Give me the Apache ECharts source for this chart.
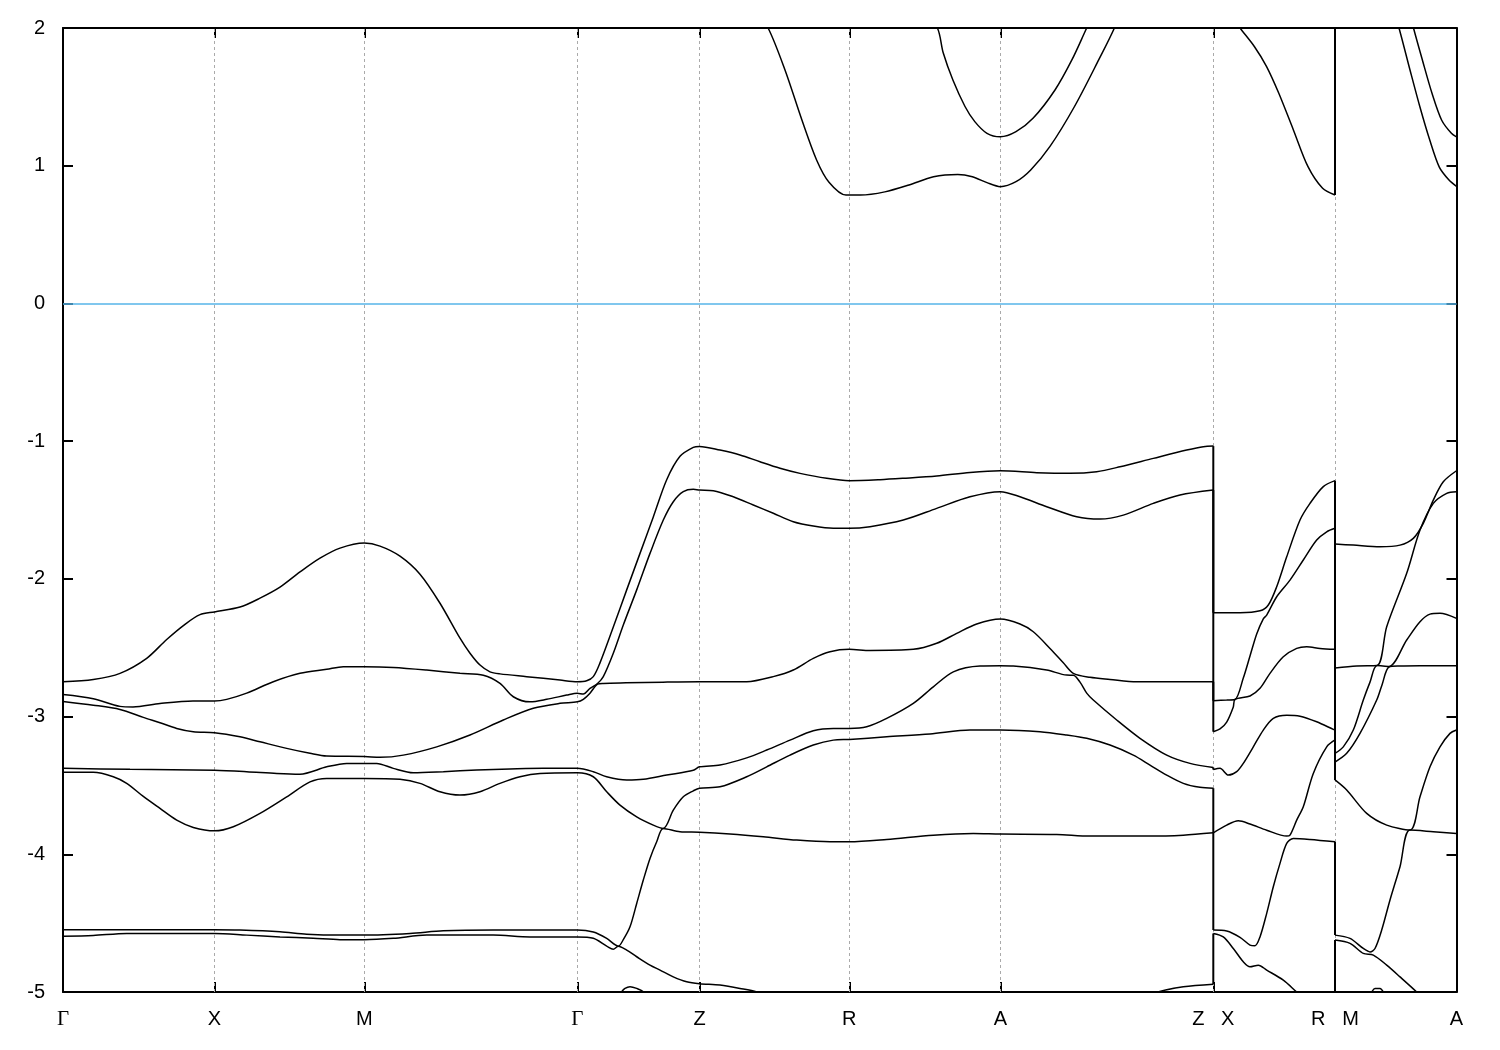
<!DOCTYPE html>
<html><head><meta charset="utf-8">
<script src="https://cdn.jsdelivr.net/npm/echarts@6/dist/echarts.min.js"></script>
<style>html,body{margin:0;padding:0;background:#fff}#c{width:1500px;height:1050px}</style>
</head><body><div id="c"></div>
<script>
// high-symmetry k positions (path distance units) and their labels
const kTicks = [0, 151.5, 301.3, 514.3, 636.5, 786.3, 937.3, 1150.3, 1272, 1393.5];
const kLabels = ['Γ', 'X', 'M', 'Γ', 'Z', 'R', 'A', 'Z   X', 'R   M', 'A'];
const eMin = -5, eMax = 2, eStep = 1;

// bands: [k, E(eV)]
const band1 = [[0,-2.747],[30.3,-2.73],[57,-2.686],[83.7,-2.577],[103.7,-2.44],[122,-2.33],[137,-2.26],[151.5,-2.24],
[177,-2.205],[197,-2.14],[217,-2.06],[237,-1.95],[257,-1.85],[277,-1.777],[301.3,-1.74],
[317,-1.762],[337,-1.835],[357,-1.966],[377,-2.177],[397,-2.431],[407,-2.54],[417,-2.626],[427,-2.675],[437,-2.69],[463.7,-2.71],[497,-2.735],[514.3,-2.747],
[523.7,-2.74],[530.3,-2.71],[537,-2.61],[550.3,-2.35],[563.7,-2.08],[577,-1.815],[590.3,-1.55],[603.7,-1.28],[617,-1.11],[630.3,-1.045],[636.5,-1.038],
[657,-1.065],[677,-1.10],[697,-1.15],[717,-1.197],[737,-1.234],[763.7,-1.27],[786.3,-1.287],
[817,-1.28],[840.3,-1.27],[873.7,-1.253],[907,-1.227],[937.3,-1.215],[973.7,-1.229],[1007,-1.234],[1033.7,-1.222],[1057,-1.186],[1090.3,-1.125],[1123.7,-1.065],[1140.3,-1.04],[1150.3,-1.036],
[1150.3,-2.246],[1177,-2.246],[1197,-2.232],[1205.3,-2.19],[1213.7,-2.057],[1223.7,-1.84],[1237,-1.573],[1247,-1.452],[1260.3,-1.33],[1272,-1.287],
[1272,-1.747],[1290.3,-1.755],[1317,-1.767],[1337,-1.755],[1350.3,-1.706],[1360.3,-1.597],[1370.3,-1.428],[1380.3,-1.295],[1393.5,-1.215]];

const band2 = [[0,-2.84],[30.3,-2.87],[57,-2.926],[70,-2.93],[97,-2.905],[130,-2.887],[151.5,-2.887],
[163.7,-2.875],[183.7,-2.83],[210.3,-2.747],[237,-2.686],[263.7,-2.657],[280.3,-2.638],[301.3,-2.638],
[330.3,-2.643],[363.7,-2.662],[397,-2.686],[420.3,-2.70],[437,-2.759],[450.3,-2.856],[467,-2.893],[483.7,-2.875],[503.7,-2.844],[514.3,-2.83],
[520.3,-2.837],[527,-2.795],[534.5,-2.76],[540.3,-2.71],[550.3,-2.54],[560.3,-2.335],[573.7,-2.08],[587,-1.815],[600.3,-1.573],[610.3,-1.44],[620.3,-1.367],[630.3,-1.35],[636.5,-1.355],
[650.3,-1.36],[670.3,-1.404],[690.3,-1.464],[710.3,-1.524],[730.3,-1.585],[750.3,-1.617],[770.3,-1.633],[786.3,-1.633],
[807,-1.621],[840.3,-1.573],[873.7,-1.488],[907,-1.404],[937.3,-1.367],[957,-1.404],[983.7,-1.476],[1013.7,-1.549],[1037,-1.566],[1060.3,-1.537],[1090.3,-1.452],[1117,-1.391],[1150.3,-1.355],
[1150.3,-2.885],[1163.7,-2.88],[1172,-2.876],[1180.3,-2.72],[1187,-2.56],[1193.7,-2.40],[1200.3,-2.29],[1203.7,-2.263],[1213.7,-2.13],[1227,-2.009],[1240.3,-1.863],[1253.7,-1.718],[1263.7,-1.658],[1272,-1.633],
[1272,-2.647],[1293.7,-2.633],[1314,-2.63],[1323.7,-2.348],[1343.7,-1.96],[1357,-1.646],[1370.3,-1.452],[1383.7,-1.379],[1393.5,-1.367]];

const band3 = [[0,-2.89],[30.3,-2.917],[57,-2.948],[80.3,-3.006],[97,-3.045],[113.7,-3.086],[130.3,-3.11],[151.5,-3.117],
[177,-3.147],[197,-3.183],[223.7,-3.231],[247,-3.267],[263.7,-3.287],[301.3,-3.29],
[317,-3.296],[340.3,-3.28],[373.7,-3.22],[407,-3.134],[440.3,-3.025],[470.3,-2.94],[497,-2.904],[514.3,-2.893],
[520.3,-2.875],[527,-2.83],[534.5,-2.765],[540.3,-2.759],[563,-2.755],[600,-2.75],[636.5,-2.747],
[683.7,-2.747],[710.3,-2.71],[730.3,-2.662],[750.3,-2.577],[767,-2.529],[786.3,-2.512],
[807,-2.52],[850.3,-2.512],[873.7,-2.468],[893.7,-2.396],[913.7,-2.328],[937.3,-2.292],[957,-2.328],[970.3,-2.384],[987,-2.505],[1000.3,-2.609],[1010.3,-2.686],[1027,-2.715],[1047,-2.73],[1073.7,-2.747],[1150.3,-2.747],
[1150.3,-3.11],[1157,-3.09],[1163.7,-3.04],[1170.3,-2.93],[1172,-2.876],[1187,-2.851],[1197,-2.795],[1207,-2.686],[1220.3,-2.566],[1233.7,-2.505],[1243.7,-2.493],[1257,-2.505],[1272,-2.512],
[1272,-3.267],[1280.3,-3.22],[1290.3,-3.098],[1300.3,-2.88],[1307,-2.75],[1314,-2.63],[1326,-2.637],[1343.7,-2.444],[1357,-2.311],[1367,-2.256],[1377,-2.25],[1393.5,-2.287]];

const band4 = [[0,-3.376],[67,-3.383],[151.5,-3.39],
[183.7,-3.40],[213.7,-3.413],[237,-3.418],[263.7,-3.365],[283.7,-3.34],[301.3,-3.34],
[313.7,-3.34],[330.3,-3.376],[350.3,-3.408],[380.3,-3.40],[413.7,-3.388],[447,-3.381],[480.3,-3.376],[514.3,-3.376],
[530.3,-3.40],[543.7,-3.437],[563.7,-3.461],[580.3,-3.456],[603.7,-3.425],[630.3,-3.39],[636.5,-3.365],
[657,-3.352],[683.7,-3.30],[703.7,-3.243],[727,-3.171],[750.3,-3.103],[770.3,-3.086],[786.3,-3.086],
[803.7,-3.074],[823.7,-3.013],[850.3,-2.904],[870.3,-2.784],[890.3,-2.675],[917,-2.633],[937.3,-2.631],[950.3,-2.633],[983.7,-2.662],[1003.7,-2.699],[1010.3,-2.70],[1017,-2.75],[1023.7,-2.83],[1030.3,-2.88],[1053.7,-3.025],[1077,-3.158],[1103.7,-3.28],[1127,-3.34],[1150.3,-3.37],
[1150.3,-3.385],[1157,-3.376],[1165.3,-3.425],[1173.7,-3.40],[1180.3,-3.34],[1190.3,-3.22],[1200.3,-3.098],[1210.3,-3.013],[1223.7,-2.99],[1237,-2.997],[1253.7,-3.038],[1270.3,-3.093],[1272,-3.098],
[1272,-3.33],[1283.7,-3.267],[1297,-3.122],[1313.7,-2.88],[1319,-2.77],[1326,-2.64],[1337,-2.633],[1357,-2.631],[1393.5,-2.631]];

const band5 = [[0,-3.405],[30.3,-3.405],[50.3,-3.437],[63.7,-3.485],[80.3,-3.58],[97,-3.667],[113.7,-3.752],[130.3,-3.805],[151.5,-3.83],
[170.3,-3.80],[197,-3.703],[223.7,-3.583],[247,-3.474],[263.7,-3.449],[301.3,-3.449],
[337,-3.456],[357,-3.485],[377,-3.546],[397,-3.57],[417,-3.546],[437,-3.485],[457,-3.437],[477,-3.413],[514.3,-3.408],
[530.3,-3.437],[543.7,-3.546],[557,-3.643],[573.7,-3.728],[590.3,-3.788],[600.3,-3.812],[610.3,-3.679],[620.3,-3.582],[630.3,-3.539],[636.5,-3.52],
[657,-3.51],[683.7,-3.437],[703.7,-3.365],[727,-3.28],[750.3,-3.207],[770.3,-3.171],[786.3,-3.166],
[823.7,-3.147],[867,-3.127],[907,-3.098],[937.3,-3.098],[977,-3.11],[1003.7,-3.134],[1023.7,-3.158],[1047,-3.207],[1070.3,-3.28],[1087,-3.352],[1103.7,-3.425],[1120.3,-3.485],[1137,-3.514],[1150.3,-3.52],
[1150.3,-3.844],[1163.7,-3.788],[1175.3,-3.757],[1187,-3.78],[1203.7,-3.825],[1223.7,-3.868],[1227,-3.861],[1233.7,-3.752],[1240.3,-3.655],[1250.3,-3.413],[1263.7,-3.22],[1272,-3.17],
[1272,-3.46],[1283.7,-3.533],[1303.7,-3.703],[1323.7,-3.788],[1347,-3.824],[1357,-3.582],[1367,-3.365],[1377,-3.22],[1387,-3.122],[1393.5,-3.098]];

const band6 = [[0,-4.548],[151.5,-4.548],
[177,-4.55],[217,-4.562],[243.7,-4.58],[277,-4.587],[301.3,-4.587],
[347,-4.575],[380.3,-4.556],[430.3,-4.55],[514.3,-4.55],
[530.3,-4.565],[543.7,-4.611],[555.3,-4.667],[560.3,-4.62],[567,-4.527],[573.7,-4.357],[580.3,-4.187],[587,-4.03],[593.7,-3.909],[600.3,-3.812],[617,-3.836],[636.5,-3.84],
[667,-3.853],[700.3,-3.873],[733.7,-3.897],[767,-3.909],[786.3,-3.909],
[823.7,-3.892],[870.3,-3.861],[910.3,-3.849],[937.3,-3.853],[993.7,-3.856],[1027,-3.868],[1087,-3.868],[1120.3,-3.861],[1150.3,-3.844],
[1150.3,-4.55],[1163.7,-4.557],[1177,-4.603],[1187,-4.659],[1192,-4.664],[1197,-4.60],[1203.7,-4.429],[1210.3,-4.236],[1217,-4.066],[1223.7,-3.921],[1230.3,-3.885],[1247,-3.892],[1272,-3.909],
[1272,-4.587],[1287,-4.611],[1300.3,-4.684],[1307,-4.709],[1312,-4.684],[1318.7,-4.55],[1327,-4.332],[1337,-4.09],[1347,-3.824],[1370.3,-3.836],[1393.5,-3.849]];

const band7 = [[0,-4.596],[30.3,-4.59],[63.7,-4.575],[151.5,-4.575],
[183.7,-4.587],[217,-4.60],[250.3,-4.61],[277,-4.62],[301.3,-4.62],
[330.3,-4.61],[363.7,-4.587],[430.3,-4.587],[467,-4.60],[514.3,-4.60],
[530.3,-4.61],[543.7,-4.667],[550.3,-4.69],[555.3,-4.667],[563.7,-4.696],[573.7,-4.744],[587,-4.805],[597,-4.841],[610.3,-4.89],[623.7,-4.926],[636.5,-4.94],
[657,-4.95],[677,-4.974],[693.7,-5.0],[720,-5.08],[786.3,-5.25],
[850,-5.35],[937.3,-5.4],[1030,-5.3],[1060,-5.12],[1090.3,-5.01],[1120.3,-4.962],[1150.3,-4.943],
[1150.3,-4.575],[1160.3,-4.60],[1170.3,-4.684],[1180.3,-4.781],[1187,-4.817],[1195.3,-4.805],[1203.7,-4.841],[1220.3,-4.914],[1233.7,-5.0],[1250,-5.1],[1272,-5.2],
[1272,-4.623],[1287,-4.647],[1300.3,-4.72],[1310.3,-4.732],[1323.7,-4.805],[1337,-4.89],[1353.7,-5.0],[1375,-5.15],[1393.5,-5.25]];

const band8 = [[0,-5.5],[301.3,-5.5],[514.3,-5.3],[549,-5.1],[558.7,-4.998],[562,-4.974],[567,-4.962],[573.7,-4.974],[580.3,-4.998],[590,-5.1],[636.5,-5.3],
[786.3,-5.5],[937.3,-5.5],[1150.3,-5.4],[1150.3,-5.4],[1272,-5.4],
[1272,-5.3],[1300,-5.1],[1308.7,-5.0],[1312,-4.975],[1317,-4.975],[1320.3,-5.0],[1327,-5.1],[1393.5,-5.4]];

const cond1 = [[0,2.8],[151.5,3.0],[301.3,3.2],[514.3,2.8],[636.5,2.6],[680,2.3],[705.1,2.0],[722,1.695],[739,1.33],[753.7,1.04],[766,0.88],[783,0.787],[786.3,0.787],
[797.5,0.787],[821.8,0.81],[846,0.86],[870.5,0.92],[894.8,0.937],[909.4,0.92],[924,0.877],[937.3,0.848],[953,0.884],[967.7,0.969],[987,1.14],[1011.5,1.43],[1035.8,1.77],[1051.4,2.0],[1080,2.5],[1150.3,3.0],
[1150.3,2.25],[1165,2.12],[1177,2.0],[1191.5,1.864],[1203.6,1.72],[1215.8,1.526],[1230.4,1.26],[1245,0.993],[1259.6,0.836],[1272,0.787],
[1272,2.8],[1320,2.4],[1336,2.0],[1347,1.695],[1356.8,1.43],[1366.6,1.19],[1376.3,0.99],[1386,0.896],[1393.5,0.85]];

const cond2 = [[0,3.5],[151.5,3.6],[301.3,3.8],[514.3,3.4],[636.5,3.0],[786.3,2.6],[855,2.2],[874.4,2.0],[880.2,1.82],[890,1.62],[902,1.43],[911.8,1.32],[924,1.235],[937.3,1.21],
[953,1.247],[970,1.344],[992,1.55],[1009,1.77],[1023.7,2.0],[1050,2.4],[1150.3,3.4],
[1150.3,2.8],[1272,2.4],
[1272,3.0],[1340,2.3],[1350.5,2.0],[1359.3,1.77],[1369,1.526],[1378.7,1.33],[1388.4,1.235],[1393.5,1.21]];

const bands = [band1, band2, band3, band4, band5, band6, band7, band8, cond1, cond2];

const FONT = '"Liberation Sans", Arial, Helvetica, sans-serif';
const chart = echarts.init(document.getElementById('c'), null, {renderer: 'canvas'});

function xLabel(v) {
  let best = 0;
  for (let i = 1; i < kTicks.length; i++) if (Math.abs(kTicks[i] - v) < Math.abs(kTicks[best] - v)) best = i;
  const t = kLabels[best];
  return t === 'Γ' ? '{g|Γ}' : t;
}

const axisLineStyle = {color: '#000', width: 2};
const kMin = kTicks[0], kMax = kTicks[kTicks.length - 1];

// split each band at path discontinuities (repeated k): smooth pieces + straight connectors
const series = [];
bands.forEach(b => {
  let cur = [b[0]];
  const flush = () => series.push({
    type: 'line', data: cur, showSymbol: false, symbol: 'none', clip: true, silent: true, smooth: 0.3,
    lineStyle: {color: '#000', width: 1.5}, z: 3, animation: false
  });
  for (let i = 1; i < b.length; i++) {
    if (b[i][0] === b[i - 1][0]) {
      flush();
      series.push({
        type: 'line', data: [b[i - 1], b[i]], showSymbol: false, symbol: 'none', clip: true, silent: true,
        lineStyle: {color: '#000', width: 2}, z: 4, animation: false
      });
      cur = [b[i]];
    } else cur.push(b[i]);
  }
  flush();
});

series.push({
  type: 'line', data: [], silent: true, z: 1, animation: false,
  markLine: {
    z: 1, silent: true, symbol: ['none', 'none'], animation: false, label: {show: false},
    data: kTicks.slice(1, -1).map(v => ({xAxis: v, lineStyle: {color: '#aaaaaa', width: 1, type: [3, 3]}}))
      .concat([{yAxis: 0, lineStyle: {color: '#56b4e9', width: 1.5, type: 'solid'}}])
  }
});

chart.setOption({
  animation: false,
  backgroundColor: '#ffffff',
  grid: {left: 63, right: 43.5, top: 28, bottom: 58, outerBoundsMode: 'none', containLabel: false},
  xAxis: [{
    type: 'value', min: kMin, max: kMax, position: 'bottom',
    axisLine: {show: true, onZero: false, lineStyle: axisLineStyle},
    axisTick: {show: true, customValues: kTicks, inside: true, length: 10, lineStyle: axisLineStyle},
    axisLabel: {show: true, customValues: kTicks, margin: 17, color: '#000', fontSize: 20, fontFamily: FONT,
      formatter: xLabel, rich: {g: {fontFamily: '"Liberation Serif", "Times New Roman", serif', fontSize: 21, color: '#000'}}},
    splitLine: {show: false}
  }, {
    type: 'value', min: kMin, max: kMax, position: 'top',
    axisLine: {show: true, onZero: false, lineStyle: axisLineStyle},
    axisTick: {show: true, customValues: kTicks, inside: true, length: 10, lineStyle: axisLineStyle},
    axisLabel: {show: false}, splitLine: {show: false}
  }],
  yAxis: [{
    type: 'value', min: eMin, max: eMax, interval: eStep, position: 'left',
    axisLine: {show: true, onZero: false, lineStyle: axisLineStyle},
    axisTick: {show: true, inside: true, length: 10, lineStyle: axisLineStyle},
    axisLabel: {show: true, margin: 18, color: '#000', fontSize: 20, fontFamily: FONT},
    splitLine: {show: false}
  }, {
    type: 'value', min: eMin, max: eMax, interval: eStep, position: 'right',
    axisLine: {show: true, onZero: false, lineStyle: axisLineStyle},
    axisTick: {show: true, inside: true, length: 10, lineStyle: axisLineStyle},
    axisLabel: {show: false}, splitLine: {show: false}
  }],
  series: series
});
</script>
</body></html>
